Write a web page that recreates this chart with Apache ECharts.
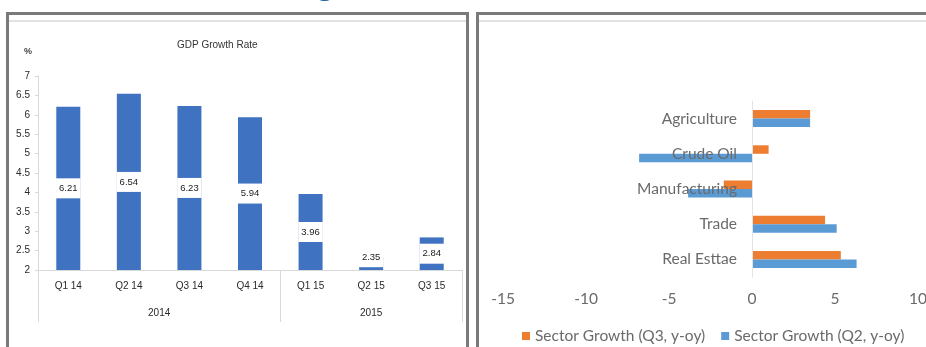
<!DOCTYPE html>
<html>
<head>
<meta charset="utf-8">
<script src="https://cdn.jsdelivr.net/npm/echarts@6/dist/echarts.min.js"></script>
<style>
  html, body { margin: 0; padding: 0; background: #ffffff; }
  #chart { width: 926px; height: 347px; }
</style>
</head>
<body>
<div id="chart"></div>
<script>
// GDP growth rate by quarter (%)
const quarters = ['Q1 14', 'Q2 14', 'Q3 14', 'Q4 14', 'Q1 15', 'Q2 15', 'Q3 15'];
const gdpGrowth = [6.21, 6.54, 6.23, 5.94, 3.96, 2.35, 2.84];
const years = ['2014', '2015'];
const quartersPerYear = [4, 3];

// Sector growth, year on year (%)
const sectors = ['Agriculture', 'Crude Oil', 'Manufacturing', 'Trade', 'Real Esttae'];
const sectorQ3 = [3.5, 1.0, -1.7, 4.4, 5.35];
const sectorQ2 = [3.5, -6.8, -3.85, 5.1, 6.3];
const sectorSeriesNames = ['Sector Growth (Q3, y-oy)', 'Sector Growth (Q2, y-oy)'];

// year group boundaries and centres along the quarter axis
const yearBounds = [0];
quartersPerYear.forEach(n => yearBounds.push(yearBounds[yearBounds.length - 1] + n));
const yearCenters = years.map((y, i) => (yearBounds[i] + yearBounds[i + 1]) / 2);

const gdpAxisMin = 2;
// short bars get their value box lifted so the foot of the bar stays visible
const gdpData = gdpGrowth.map(v => (v - gdpAxisMin < 0.5)
  ? { value: v, label: { offset: [0, -6] } }
  : v);

const smallFont = 'Liberation Sans';
const bodyFont = 'Lato';
const bodySize = 15.5;

const chart = echarts.init(document.getElementById('chart'), null, { renderer: 'canvas' });

chart.setOption({
  animation: false,
  backgroundColor: '#ffffff',
  title: [
    {
      text: 'GDP Growth Rate', left: 172, top: 35,
      textStyle: { fontSize: 10, fontWeight: 'normal', color: '#333333', fontFamily: smallFont }
    },
    {
      text: '%', left: 19, top: 42,
      textStyle: { fontSize: 9, fontWeight: 'bold', color: '#444444', fontFamily: smallFont }
    }
  ],
  legend: {
    data: sectorSeriesNames,
    left: 517, top: 323,
    icon: 'rect', itemWidth: 8, itemHeight: 8, itemGap: 16,
    textStyle: { fontSize: bodySize, color: '#6a6a6a', fontFamily: bodyFont }
  },
  grid: [
    { left: 38, right: 464, top: 76, bottom: 77, outerBoundsMode: 'none' },
    { left: 503, right: 8, top: 101, bottom: 70, outerBoundsMode: 'none' }
  ],
  xAxis: [
    {
      gridIndex: 0, type: 'category', data: quarters,
      axisLine: { lineStyle: { color: '#d9d9d9' } },
      axisTick: { length: 23, lineStyle: { color: '#d9d9d9' } },
      axisLabel: { margin: 11, fontSize: 10, color: '#2a2a2a', fontFamily: smallFont }
    },
    {
      gridIndex: 0, type: 'value', min: 0, max: quarters.length, position: 'bottom',
      axisLine: { show: false },
      splitLine: { show: false },
      axisTick: { show: true, customValues: yearBounds, length: 52, lineStyle: { color: '#d9d9d9' } },
      axisLabel: {
        customValues: yearCenters, margin: 38, fontSize: 10, color: '#2a2a2a', fontFamily: smallFont,
        formatter: v => years[yearCenters.indexOf(v)] || ''
      }
    },
    {
      gridIndex: 1, type: 'value', min: -15, max: 10, interval: 5,
      axisLine: { show: false }, axisTick: { show: false }, splitLine: { show: false },
      axisLabel: { margin: 14, fontSize: bodySize, color: '#6a6a6a', fontFamily: bodyFont }
    }
  ],
  yAxis: [
    {
      gridIndex: 0, type: 'value', min: gdpAxisMin, max: 7, interval: 0.5,
      axisLine: { show: true, lineStyle: { color: '#d9d9d9' } },
      axisTick: { show: true, length: 3, lineStyle: { color: '#d9d9d9' } },
      splitLine: { show: false },
      axisLabel: { margin: 8, fontSize: 10, color: '#2a2a2a', fontFamily: smallFont }
    },
    {
      gridIndex: 1, type: 'category', data: sectors, inverse: true, z: 5,
      axisLine: { onZero: true, lineStyle: { color: '#e3e3e3' } },
      axisTick: { show: false },
      // labels sit just left of the zero line
      axisLabel: { margin: -234, fontSize: bodySize, color: '#6a6a6a', fontFamily: bodyFont }
    }
  ],
  series: [
    {
      type: 'bar', xAxisIndex: 0, yAxisIndex: 0, data: gdpData,
      barWidth: 24, itemStyle: { color: '#3F72C0' },
      label: {
        show: true, position: 'inside', backgroundColor: '#ffffff', padding: [5, 3],
        color: '#222222', fontSize: 9.5, fontFamily: smallFont
      }
    },
    {
      name: sectorSeriesNames[0], type: 'bar', xAxisIndex: 2, yAxisIndex: 1,
      data: sectorQ3, barWidth: 8.5, barGap: '0%', itemStyle: { color: '#ED7D31' }
    },
    {
      name: sectorSeriesNames[1], type: 'bar', xAxisIndex: 2, yAxisIndex: 1,
      data: sectorQ2, barWidth: 8.5, barGap: '0%', itemStyle: { color: '#5B9BD5' }
    }
  ],
  graphic: [
    // panel frames
    { type: 'rect', silent: true, shape: { x: 7.5, y: 13.5, width: 460, height: 400 },
      style: { fill: 'none', stroke: '#7a7a7a', lineWidth: 3 } },
    { type: 'rect', silent: true, shape: { x: 477.5, y: 13.5, width: 500, height: 400 },
      style: { fill: 'none', stroke: '#7a7a7a', lineWidth: 3 } },
    { type: 'line', silent: true, shape: { x1: 9, y1: 21, x2: 466, y2: 21 },
      style: { stroke: '#d8d8d8', lineWidth: 1.5 } },
    { type: 'line', silent: true, shape: { x1: 479, y1: 21, x2: 926, y2: 21 },
      style: { stroke: '#d8d8d8', lineWidth: 1.5 } },
    // tail of the page heading above the panels
    { type: 'text', silent: true, x: 318, y: -25,
      style: { text: 'g', font: 'bold 26px "Open Sans"', fill: '#1F5FA8' } }
  ]
});
</script>
</body>
</html>
